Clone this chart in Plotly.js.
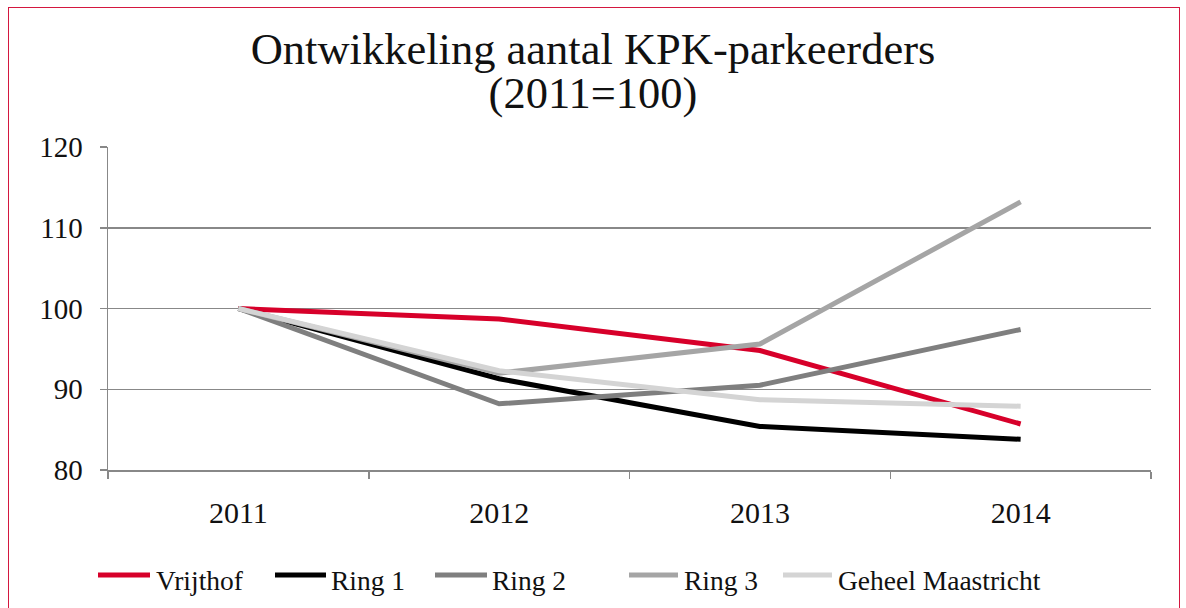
<!DOCTYPE html>
<html>
<head>
<meta charset="utf-8">
<script src="https://cdn.plot.ly/plotly-3.0.1.min.js"></script>
<style>
  html, body { margin: 0; padding: 0; background: #fff; overflow: hidden; }
  #frame { position: absolute; left: 8px; top: 7px; width: 1172px; height: 700px; border: 1.5px solid #d4173f; box-sizing: border-box; }
  #chart { position: absolute; left: 0; top: 0; width: 1186px; height: 608px; }
</style>
</head>
<body>
<div id="frame"></div>
<div id="chart"></div>
<script>
const years = ['2011', '2012', '2013', '2014'];
const seriesNames = ['Vrijthof', 'Ring 1', 'Ring 2', 'Ring 3', 'Geheel Maastricht'];
const vrijthof = [100, 98.7, 94.8, 85.7];
const ring1 = [100, 91.3, 85.4, 83.8];
const ring2 = [100, 88.2, 90.5, 97.4];
const ring3 = [100, 92.0, 95.6, 113.2];
const geheel = [100, 92.3, 88.7, 87.9];
const yTicks = [80, 90, 100, 110, 120];

const seriesValues = [vrijthof, ring1, ring2, ring3, geheel];
const colors = ['#d7002a', '#000000', '#7f7f7f', '#a5a5a5', '#d4d4d4'];
const FONT = '"Liberation Serif", "Times New Roman", serif';

const traces = seriesNames.map((n, i) => ({
  type: 'scatter', mode: 'lines', name: n, x: years, y: seriesValues[i],
  line: { color: colors[i], width: 5 }, showlegend: false, hoverinfo: 'skip'
}));

// custom legend (pixel positions converted to paper coords)
const plotL = 108, plotR = 1151, plotT = 147, plotB = 470;
const px = v => (v - plotL) / (plotR - plotL);
const py = v => (plotB - v) / (plotB - plotT);
const legLineX = [[98, 150], [275, 326], [435, 487], [629, 678], [783, 832]];
const legTextX = [154, 329, 490, 682, 836];
const shapes = [], annotations = [];
seriesNames.forEach((n, i) => {
  shapes.push({ type: 'line', xref: 'paper', yref: 'paper',
    x0: px(legLineX[i][0]), x1: px(legLineX[i][1]), y0: py(575), y1: py(575),
    line: { color: colors[i], width: 5 } });
  annotations.push({ xref: 'paper', yref: 'paper', x: px(legTextX[i]), y: py(580),
    xanchor: 'left', yanchor: 'middle', showarrow: false, text: n,
    font: { family: FONT, size: 27.5, color: '#111' } });
});

const layout = {
  width: 1186, height: 608,
  paper_bgcolor: 'rgba(0,0,0,0)', plot_bgcolor: 'rgba(0,0,0,0)',
  margin: { l: plotL, r: 1186 - plotR, t: plotT, b: 608 - plotB, pad: 0 },
  title: {
    text: "<span style='font-size:44.5px'>Ontwikkeling aantal KPK-parkeerders</span><br><span style='font-size:44.5px'>(2011=100)</span>",
    font: { family: FONT, size: 34, color: '#111' },
    x: 0.5, xanchor: 'center', y: 1 - 64 / 608, yanchor: 'top', yref: 'container'
  },
  xaxis: {
    type: 'category', range: [-0.5, 3.5], tickson: 'boundaries',
    ticks: 'outside', ticklen: 7, tickwidth: 1.5, tickcolor: '#888',
    showline: true, linecolor: '#888', linewidth: 1.5, showgrid: false,
    ticklabelstandoff: 15,
    tickfont: { family: FONT, size: 30, color: '#111' }, fixedrange: true
  },
  yaxis: {
    range: [80, 120], tickvals: yTicks, ticktext: yTicks.map(String),
    ticks: 'outside', ticklen: 7, tickwidth: 1.5, tickcolor: '#888',
    showline: true, linecolor: '#888', linewidth: 1.5,
    showgrid: true, gridcolor: '#888', gridwidth: 1.5, zeroline: false,
    ticklabelstandoff: 11,
    tickfont: { family: FONT, size: 29, color: '#111' }, fixedrange: true
  },
  shapes: shapes, annotations: annotations, showlegend: false
};

Plotly.newPlot('chart', traces, layout, { displayModeBar: false, staticPlot: true });
</script>
</body>
</html>
